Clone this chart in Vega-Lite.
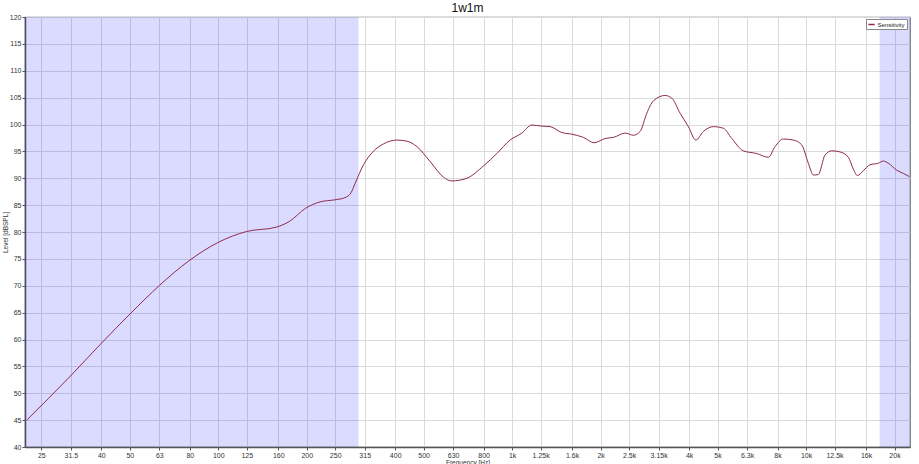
{
  "$schema": "https://vega.github.io/schema/vega-lite/v6.json",
  "autosize": {"type": "none"},
  "padding": {"left": 25, "top": 17, "right": 9, "bottom": 17},
  "width": 885,
  "height": 430,
  "background": "white",
  "title": {"text": "1w1m", "fontSize": 12, "fontWeight": "normal", "font": "Liberation Sans", "color": "#111", "offset": -2, "anchor": "middle"},
  "config": {
    "view": {"stroke": "#777", "strokeWidth": 1.2},
    "axis": {"labelFont": "Liberation Sans", "titleFont": "Liberation Sans", "labelColor": "#333", "titleColor": "#333", "labelFontSize": 7, "titleFontSize": 6.5, "titleFontWeight": "normal", "gridColor": "#dadada", "gridWidth": 1, "domainColor": "#555", "domainWidth": 1.5, "tickColor": "#555", "tickSize": 3, "labelPadding": 1}
  },
  "encoding": {
    "x": {
      "field": "f", "type": "quantitative",
      "scale": {"type": "log", "domain": [22, 22580], "nice": false},
      "axis": {
        "title": "Frequency [Hz]", "titlePadding": 1,
        "values": [25, 31.5, 40, 50, 63, 80, 100, 125, 160, 200, 250, 315, 400, 500, 630, 800, 1000, 1250, 1600, 2000, 2500, 3150, 4000, 5000, 6300, 8000, 10000, 12500, 16000, 20000],
        "labelExpr": "datum.value >= 1000 ? format(datum.value / 1000, '~g') + 'k' : format(datum.value, '~g')",
        "labelOverlap": false, "labelFlush": false
      }
    }
  },
  "layer": [
    {
      "data": {"values": [{"f": 22, "f2": 300}, {"f": 17800, "f2": 22580}]},
      "mark": {"type": "rect", "color": "#0000ff", "opacity": 0.14},
      "encoding": {"x2": {"field": "f2"}}
    },
    {
      "data": {"values": [
        {"f": 22.3, "dB": 45.0, "series": "Sensitivity"},
        {"f": 31.4, "dB": 53.2, "series": "Sensitivity"},
        {"f": 39.7, "dB": 59.1, "series": "Sensitivity"},
        {"f": 50.2, "dB": 64.8, "series": "Sensitivity"},
        {"f": 63.2, "dB": 70.1, "series": "Sensitivity"},
        {"f": 79.3, "dB": 74.6, "series": "Sensitivity"},
        {"f": 99.4, "dB": 78.0, "series": "Sensitivity"},
        {"f": 125, "dB": 80.1, "series": "Sensitivity"},
        {"f": 157.5, "dB": 80.9, "series": "Sensitivity"},
        {"f": 175, "dB": 82.0, "series": "Sensitivity"},
        {"f": 198, "dB": 84.4, "series": "Sensitivity"},
        {"f": 222, "dB": 85.6, "series": "Sensitivity"},
        {"f": 250, "dB": 86.0, "series": "Sensitivity"},
        {"f": 270, "dB": 86.4, "series": "Sensitivity"},
        {"f": 283, "dB": 87.3, "series": "Sensitivity"},
        {"f": 292, "dB": 89.0, "series": "Sensitivity"},
        {"f": 312, "dB": 92.5, "series": "Sensitivity"},
        {"f": 337, "dB": 95.0, "series": "Sensitivity"},
        {"f": 365, "dB": 96.4, "series": "Sensitivity"},
        {"f": 405, "dB": 97.1, "series": "Sensitivity"},
        {"f": 438, "dB": 96.9, "series": "Sensitivity"},
        {"f": 474, "dB": 95.9, "series": "Sensitivity"},
        {"f": 526, "dB": 93.1, "series": "Sensitivity"},
        {"f": 584, "dB": 90.2, "series": "Sensitivity"},
        {"f": 623, "dB": 89.5, "series": "Sensitivity"},
        {"f": 701, "dB": 90.0, "series": "Sensitivity"},
        {"f": 799, "dB": 92.3, "series": "Sensitivity"},
        {"f": 887, "dB": 94.6, "series": "Sensitivity"},
        {"f": 984, "dB": 97.1, "series": "Sensitivity"},
        {"f": 1079, "dB": 98.4, "series": "Sensitivity"},
        {"f": 1167, "dB": 99.9, "series": "Sensitivity"},
        {"f": 1262, "dB": 99.7, "series": "Sensitivity"},
        {"f": 1347, "dB": 99.6, "series": "Sensitivity"},
        {"f": 1476, "dB": 98.5, "series": "Sensitivity"},
        {"f": 1596, "dB": 98.2, "series": "Sensitivity"},
        {"f": 1748, "dB": 97.6, "series": "Sensitivity"},
        {"f": 1900, "dB": 96.6, "series": "Sensitivity"},
        {"f": 2072, "dB": 97.4, "series": "Sensitivity"},
        {"f": 2211, "dB": 97.6, "series": "Sensitivity"},
        {"f": 2424, "dB": 98.4, "series": "Sensitivity"},
        {"f": 2587, "dB": 98.0, "series": "Sensitivity"},
        {"f": 2725, "dB": 98.7, "series": "Sensitivity"},
        {"f": 2872, "dB": 102.1, "series": "Sensitivity"},
        {"f": 3024, "dB": 104.4, "series": "Sensitivity"},
        {"f": 3314, "dB": 105.4, "series": "Sensitivity"},
        {"f": 3493, "dB": 104.9, "series": "Sensitivity"},
        {"f": 3728, "dB": 102.1, "series": "Sensitivity"},
        {"f": 3979, "dB": 99.6, "series": "Sensitivity"},
        {"f": 4216, "dB": 97.1, "series": "Sensitivity"},
        {"f": 4473, "dB": 98.7, "series": "Sensitivity"},
        {"f": 4837, "dB": 99.6, "series": "Sensitivity"},
        {"f": 5232, "dB": 99.3, "series": "Sensitivity"},
        {"f": 5588, "dB": 97.4, "series": "Sensitivity"},
        {"f": 6118, "dB": 95.1, "series": "Sensitivity"},
        {"f": 6797, "dB": 94.6, "series": "Sensitivity"},
        {"f": 7442, "dB": 93.9, "series": "Sensitivity"},
        {"f": 7846, "dB": 95.9, "series": "Sensitivity"},
        {"f": 8372, "dB": 97.3, "series": "Sensitivity"},
        {"f": 9054, "dB": 97.1, "series": "Sensitivity"},
        {"f": 9669, "dB": 96.2, "series": "Sensitivity"},
        {"f": 10180, "dB": 92.8, "series": "Sensitivity"},
        {"f": 10590, "dB": 90.6, "series": "Sensitivity"},
        {"f": 11010, "dB": 90.7, "series": "Sensitivity"},
        {"f": 11600, "dB": 94.3, "series": "Sensitivity"},
        {"f": 12230, "dB": 95.1, "series": "Sensitivity"},
        {"f": 13050, "dB": 94.9, "series": "Sensitivity"},
        {"f": 13930, "dB": 93.9, "series": "Sensitivity"},
        {"f": 14490, "dB": 91.7, "series": "Sensitivity"},
        {"f": 14950, "dB": 90.5, "series": "Sensitivity"},
        {"f": 15660, "dB": 91.4, "series": "Sensitivity"},
        {"f": 16510, "dB": 92.5, "series": "Sensitivity"},
        {"f": 17620, "dB": 92.8, "series": "Sensitivity"},
        {"f": 18320, "dB": 93.2, "series": "Sensitivity"},
        {"f": 19050, "dB": 92.8, "series": "Sensitivity"},
        {"f": 20350, "dB": 91.5, "series": "Sensitivity"},
        {"f": 21430, "dB": 90.9, "series": "Sensitivity"},
        {"f": 22460, "dB": 90.3, "series": "Sensitivity"}
      ]},
      "mark": {"type": "line", "interpolate": "monotone", "strokeWidth": 1, "clip": true},
      "encoding": {
        "y": {
          "field": "dB", "type": "quantitative",
          "scale": {"domain": [40, 120], "nice": false, "zero": false},
          "axis": {"title": "Level [dBSPL]", "values": [40, 45, 50, 55, 60, 65, 70, 75, 80, 85, 90, 95, 100, 105, 110, 115, 120], "titlePadding": 1, "labelFlush": false}
        },
        "color": {
          "field": "series", "type": "nominal",
          "scale": {"domain": ["Sensitivity"], "range": ["#8e2a4e"]},
          "legend": {"title": null, "orient": "none", "legendX": 841, "legendY": 2, "padding": 1.5, "fillColor": "white", "strokeColor": "#888", "labelFont": "Liberation Sans", "labelFontSize": 6, "labelColor": "#222", "symbolType": "stroke", "symbolStrokeWidth": 1.5, "symbolSize": 40, "labelOffset": 2, "rowPadding": 0}
        }
      }
    }
  ]
}
